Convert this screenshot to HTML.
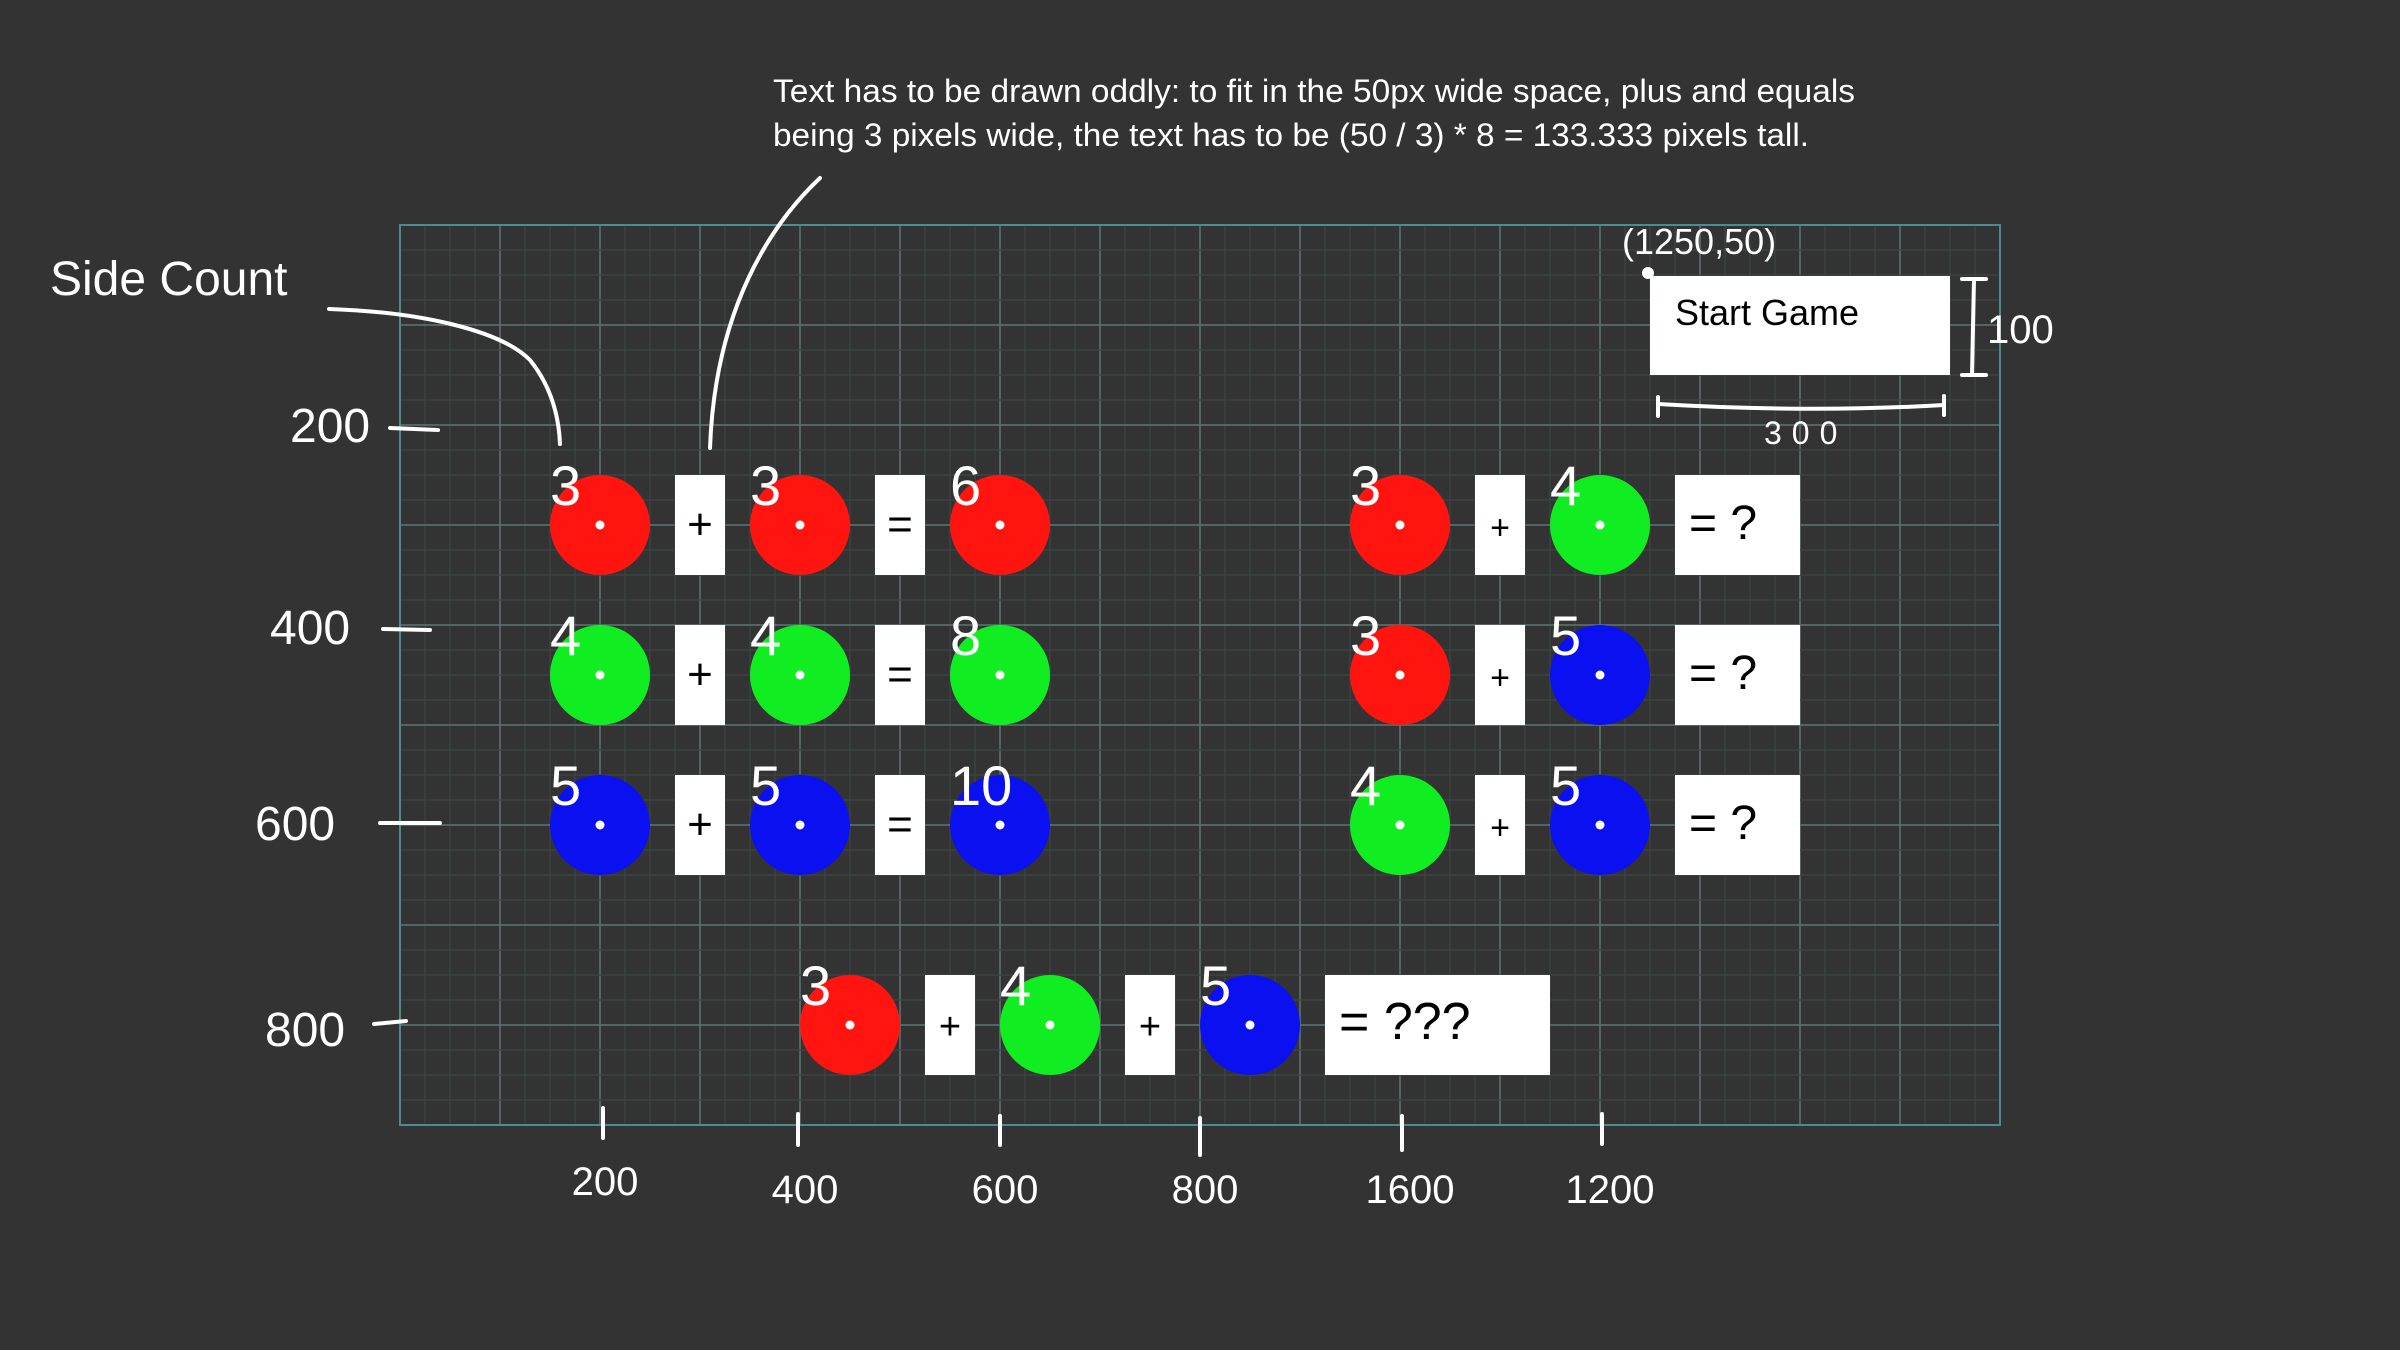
<!DOCTYPE html>
<html><head><meta charset="utf-8"><style>
html,body{margin:0;padding:0;background:#333333;}
svg{display:block;}
.hw{font-family:"Liberation Sans",sans-serif;fill:#fff;}
</style></head>
<body>
<svg id="c" width="2400" height="1350" viewBox="0 0 2400 1350" xmlns="http://www.w3.org/2000/svg">
<rect width="2400" height="1350" fill="#333333"/>
<g id="grid"></g>
<g id="marks"></g>
<text x="773" y="102" font-family="Liberation Sans, sans-serif" font-size="32" fill="#fff" textLength="1082" lengthAdjust="spacingAndGlyphs">Text has to be drawn oddly: to fit in the 50px wide space, plus and equals</text>
<text x="773" y="146" font-family="Liberation Sans, sans-serif" font-size="32" fill="#fff" textLength="1036" lengthAdjust="spacingAndGlyphs">being 3 pixels wide, the text has to be (50 / 3) * 8 = 133.333 pixels tall.</text>
<g fill="none" stroke="#fff" stroke-width="4" stroke-linecap="round">
<path d="M329,309 C420,312 500,330 530,360 Q558,395 560,444"/>
<path d="M820,178 C770,225 715,310 710,448"/>
<path d="M1962,279 H1986 M1974,279 L1972,375 M1962,375 H1986"/>
<path d="M1658,397 V416 M1658,404 C1760,410 1860,410 1944,405 M1944,396 V415"/>
<path d="M390,428 L438,430"/>
<path d="M383,629 L430,630"/>
<path d="M380,823 L440,823"/>
<path d="M374,1024 L406,1021"/>
<path d="M603,1108 V1138"/>
<path d="M798,1114 V1145"/>
<path d="M1000,1116 V1145"/>
<path d="M1200,1118 V1155"/>
<path d="M1402,1116 V1150"/>
<path d="M1602,1114 V1144"/>
</g>
<circle cx="1648" cy="273" r="6" fill="#fff"/>
<rect x="1650" y="276" width="300" height="99" fill="#fff"/>
<text x="1675" y="325" font-family="Liberation Sans, sans-serif" font-size="36" fill="#000">Start  Game</text>
<text class="hw" x="1622" y="254" font-size="36">(1250,50)</text>
<text class="hw" x="1987" y="343" font-size="40">100</text>
<text class="hw" x="1764" y="444" font-size="32" letter-spacing="10">300</text>
<text class="hw" x="50" y="295" font-size="48">Side Count</text>
<g id="axes"></g>
</svg>
<script>
const rowLabels = [["3","+","3","=","6"],["4","+","4","=","8"],["5","+","5","=","10"]];
const rowColors = [["r","r","r"],["g","g","g"],["b","b","b"]];
const rightLabels = [["3","+","4","= ?"],["3","+","5","= ?"],["4","+","5","= ?"]];
const rightColors = [["r","g"],["r","b"],["g","b"]];
const bottomLabels = ["3","+","4","+","5","= ???"];
const bottomColors = ["r","g","b"];
const yTickLabels = ["200","400","600","800"];
const xTickLabels = ["200","400","600","800","1600","1200"];

const NS="http://www.w3.org/2000/svg";
const palette={r:"#ff1410",g:"#10ee22",b:"#0a10f0"};
function mk(tag,attrs,parent){const e=document.createElementNS(NS,tag);for(const k in attrs)e.setAttribute(k,attrs[k]);parent.appendChild(e);return e;}
const grid=document.getElementById('grid');
const X0=400,Y0=225,W=1600,H=900;
for(let x=0;x<=W;x+=25){const major=x%100===0;const l=mk('line',{x1:X0+x,y1:Y0,x2:X0+x,y2:Y0+H,stroke:major?'#5d7474':'#3d4646','stroke-width':major?1.5:1.2},grid);

}
for(let y=0;y<=H;y+=25){const major=y%100===0;const l=mk('line',{x1:X0,y1:Y0+y,x2:X0+W,y2:Y0+y,stroke:major?'#5d7474':'#3d4646','stroke-width':major?1.5:1.2},grid);

}
const border=mk('rect',{x:X0,y:Y0,width:W,height:H,fill:'none',stroke:'#4a8c92','stroke-width':2},grid);



const marks=document.getElementById('marks');
const colX=k=>X0+100*k;
const rowY=r=>Y0+r;
function circle(cx,cy,color,label){
  const c=mk('circle',{cx:cx,cy:cy,r:50,fill:palette[color]},marks);
  
  
  const d=mk('circle',{cx:cx,cy:cy,r:4.5,fill:'#fff'},marks);
  
  
  const t=mk('text',{x:cx-50,y:cy-20,'font-size':56,'font-family':'Liberation Sans, sans-serif',fill:'#fff'},marks);
  t.textContent=label;
  
  
}
function box(x,cy,w,label,fs){
  const b=mk('rect',{x:x,y:cy-50,width:w,height:100,fill:'#fff'},marks);
  
  
  const t=mk('text',{x:x+(w>60?14:w/2),y:cy+14,'font-size':fs,'font-family':'Liberation Sans, sans-serif',fill:'#000','text-anchor':w>60?'start':'middle'},marks);
  t.textContent=label;
  
  
}
rowLabels.forEach((row,i)=>{
  const cy=rowY(300+150*i);
  row.forEach((lab,k)=>{
    const cx=colX(2+k);
    if(k%2===0) circle(cx,cy,rowColors[i][k/2],lab); else box(cx-25,cy,50,lab,44);
  });
});
rightLabels.forEach((row,i)=>{
  const cy=rowY(300+150*i);
  row.forEach((lab,k)=>{
    const cx=colX(10+k);
    if(k===3) box(cx-25,cy,125,lab,48);
    else if(k%2===0) circle(cx,cy,rightColors[i][k/2],lab); else box(cx-25,cy,50,lab,34);
  });
});
bottomLabels.forEach((lab,k)=>{
  const cy=rowY(800), cx=X0+450+100*k;
  if(k===5) box(cx-25,cy,225,lab,52);
  else if(k%2===0) circle(cx,cy,bottomColors[k/2],lab); else box(cx-25,cy,50,lab,38);
});

const axes=document.getElementById('axes');
const yPos=[[290,442],[270,644],[255,840],[265,1046]];
yTickLabels.forEach((lab,i)=>{
  const t=mk('text',{x:yPos[i][0],y:yPos[i][1],'font-size':48,'font-family':'Liberation Sans, sans-serif',fill:'#fff'},axes);
  t.textContent=lab;
  
  
});
xTickLabels.forEach((lab,i)=>{
  const t=mk('text',{x:X0+200+200*i+(i===4||i===5?10:5),y:1195+(i>0?8:0),'font-size':40,'font-family':'Liberation Sans, sans-serif',fill:'#fff','text-anchor':'middle'},axes);
  t.textContent=lab;
  
  
});
</script>
</body></html>
